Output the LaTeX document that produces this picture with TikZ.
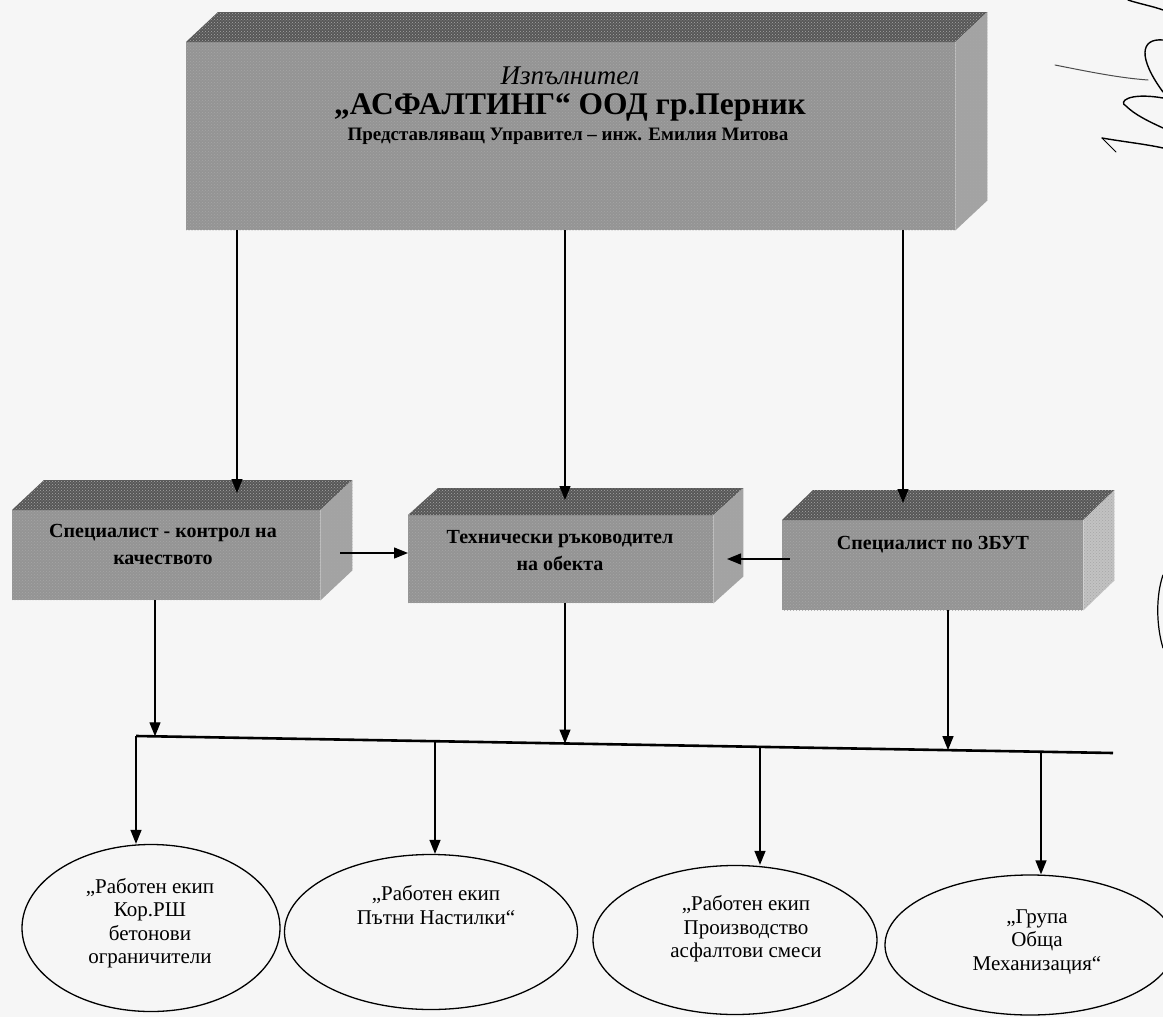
\documentclass[tikz,border=0pt]{standalone}
\usepackage{fontspec}
\setmainfont{Liberation Serif}
\usetikzlibrary{arrows.meta,calc,shapes.geometric,patterns}
\newcommand\cuboidfaces[5]{% node, dx, dy, top colour, side colour
  \fill[#4, grain] (#1.north west) -- ++(#2,-#3) -- ($(#1.north east)+(#2,-#3)$) -- (#1.north east) -- cycle;
  \fill[#5, grain] (#1.north east) -- ++(#2,-#3) -- ($(#1.south east)+(#2,-#3)$) -- (#1.south east) -- cycle;
}
\begin{document}
\begin{tikzpicture}[x=1pt,y=-1pt,
  grain/.style={postaction={pattern=crosshatch dots, pattern color=black!35}},
  face/.style={fill=black!42, grain, draw=none, inner sep=0pt, anchor=north west},
  conn/.style={line width=1.3pt, -{Triangle[length=14pt,width=11pt]}},
  team/.style={ellipse, draw, line width=1.3pt, inner sep=0pt},
  teamtext/.style={align=center, font=\fontsize{21}{23.5}\selectfont},
  boxtext/.style={align=center, font=\bfseries\fontsize{20}{27}\selectfont},
  sig/.style={line width=1.4pt, line cap=round}
]
\fill[gray!7] (0,0) rectangle (1163,1017);
\useasboundingbox (0,0) rectangle (1163,1017);

% ---- boxes (front faces) ----
\node[face, minimum width=769, minimum height=188] (exec) at (186,42) {};
\cuboidfaces{exec}{32}{30}{black!66}{black!36}
\node[face, minimum width=308, minimum height=90] (qc) at (12,510) {};
\cuboidfaces{qc}{32}{30}{black!66}{black!36}
\node[face, minimum width=305, minimum height=88] (tech) at (408,515) {};
\cuboidfaces{tech}{30}{27}{black!66}{black!36}
\node[face, minimum width=301, minimum height=90] (zbut) at (782,520) {};
\cuboidfaces{zbut}{31}{30}{black!66}{black!24}

% ---- box texts ----
\node[font=\itshape\fontsize{27}{30}\selectfont] (execa) at (570,76) {Изпълнител};
\node[font=\bfseries\fontsize{31.5}{36}\selectfont] (execb) at (570,107) {„АСФАЛТИНГ“ ООД гр.Перник};
\node[font=\bfseries\fontsize{19}{22}\selectfont] (execc) at (568,136) {Представляващ Управител – инж. Емилия Митова};
\node[boxtext] (qct) at (163,544) {Специалист - контрол на\\качеството};
\node[boxtext] (techt) at (560,551) {Технически ръководител\\на обекта};
\node[boxtext] (zbutt) at (933,545) {Специалист по ЗБУТ};

% ---- arrows from executive ----
\coordinate (qcin) at (237,493);
\coordinate (techin) at (565,500);
\coordinate (zbutin) at (903,503);
\draw[conn] (qcin |- exec.south) -- (qcin);
\draw[conn] (techin |- exec.south) -- (techin);
\draw[conn] (zbutin |- exec.south) -- (zbutin);

% ---- side arrows into technical manager ----
\coordinate (qcout) at (340,553);
\coordinate (zbutout) at (790,559);
\draw[conn] (qcout) -- (qcout -| tech.west);
\draw[conn] (zbutout) -- (727,559);

% ---- bus line ----
\coordinate (busL) at (136,736);
\coordinate (busR) at (1113,753);
\draw[line width=2.6pt] (busL) -- (busR);
\coordinate (b1) at (155,736.3);
\coordinate (b2) at (565,743.5);
\coordinate (b3) at (948,750.1);
\draw[conn] (b1 |- qc.south) -- (b1);
\draw[conn] (b2 |- tech.south) -- (b2);
\draw[conn] (b3 |- zbut.south) -- (b3);

% ---- teams ----
\node[team, minimum width=258, minimum height=167] (e1) at (151,928) {};
\node[team, minimum width=293, minimum height=155] (e2) at (431,932) {};
\node[team, minimum width=284, minimum height=149] (e3) at (735,940) {};
\node[team, minimum width=290, minimum height=140] (e4) at (1030,945) {};
\node[teamtext] (e1t) at (150,923) {„Работен екип\\Кор.РШ\\бетонови\\ограничители};
\node[teamtext] (e2t) at (436,905) {„Работен екип\\Пътни Настилки“};
\node[teamtext] (e3t) at (746,929) {„Работен екип\\Производство\\асфалтови смеси};
\node[teamtext] (e4t) at (1037,942) {„Група\\Обща\\Механизация“};

\coordinate (d2) at (435,741.2);
\coordinate (d3) at (760,746.9);
\coordinate (d4) at (1041,751.7);
\draw[conn] (busL) -- (busL |- e1.north);
\draw[conn] (d2) -- (d2 |- e2.north);
\draw[conn] (d3) -- (d3 |- e3.north);
\draw[conn] (d4) -- (d4 |- e4.north);

% ---- handwritten marks at the right margin ----
\draw[sig, line width=1pt, gray!60!black] (1055,65) .. controls (1090,72) and (1120,78) .. (1148,80);
\draw[sig] (1163,40) .. controls (1140,38) and (1138,58) .. (1163,92);
\draw[sig] (1163,98) .. controls (1128,92) and (1118,102) .. (1126,106) .. controls (1135,115) and (1150,122) .. (1163,128);
\draw[sig] (1102,138) .. controls (1125,142) and (1145,144) .. (1163,148);
\draw[sig, line width=0.9pt] (1102,138) -- (1116,152);
\draw[sig] (1128,0) .. controls (1140,4) and (1152,6) .. (1163,10);
\draw[sig, line width=1.2pt] (1163,575) .. controls (1156,595) and (1156,625) .. (1163,648);
\end{tikzpicture}
\end{document}
